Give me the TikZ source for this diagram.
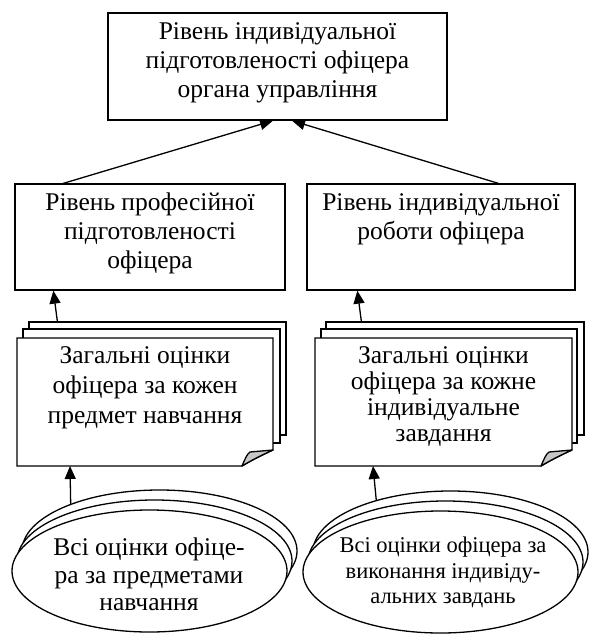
\documentclass[tikz,border=0pt]{standalone}
\usepackage{fontspec}
\setmainfont{Liberation Serif}
\usetikzlibrary{arrows.meta,calc,shapes.geometric}
\begin{document}
\begin{tikzpicture}[x=1pt,y=-1pt,
  box/.style={draw,line width=1.3pt,inner sep=0pt,fill=white},
  txt/.style={align=center,inner sep=0pt,font=\fontsize{25.5}{29}\selectfont},
  arr/.style={line width=1.3pt,-{Triangle[length=13pt,width=11pt]}},
  ell/.style={draw,ellipse,line width=1.3pt,fill=white,minimum width=275pt,minimum height=122pt,inner sep=0pt},
  docline/.style={draw,line width=1.3pt,fill=white,line join=miter},
  fold/.style={draw,fill=black!22,line width=1.3pt,line join=round},
  ghost/.style={inner sep=0pt,outer sep=0pt}]
\useasboundingbox (0,0) rectangle (593,635);
% top box
\node[box,minimum width=339pt,minimum height=107pt] (top) at (277.5,66.5) {};
\node[txt] (toptext) at (277.5,62.5) {Рівень індивідуальної\\підготовленості офіцера\\органа управління};
% middle boxes
\node[box,minimum width=270pt,minimum height=106pt] (lbox) at (150,237) {};
\node[txt] (lboxtext) at (150,233.5) {Рівень професійної\\підготовленості\\офіцера};
\node[box,minimum width=268pt,minimum height=106pt] (rbox) at (441,237) {};
\node[txt] (rboxtext) at (441,219.5) {Рівень індивідуальної\\роботи офіцера};
% left document stack
\node[box,minimum width=257pt,minimum height=113pt] (ldoc3) at (157.5,378.5) {};
\node[box,minimum width=257pt,minimum height=114pt] (ldoc2) at (151.5,386) {};
\node[ghost,minimum width=256pt,minimum height=128pt] (ldoc) at (145,402) {};
\path[docline] (17,338) -- (273,338) -- (273,450) .. controls (262,455) and (252,460) .. (242,466) -- (17,466) -- cycle;
\path[fold] (242,466) .. controls (245,459) and (247,454) .. (250,452) -- (273,450) .. controls (262,455) and (252,460) .. (242,466) -- cycle;
\node[txt,font=\fontsize{25.5}{30}\selectfont] (ldoctext) at (145,388) {Загальні оцінки\\офіцера за кожен\\предмет навчання};
% right document stack
\node[box,minimum width=258pt,minimum height=113pt] (rdoc3) at (455,378.5) {};
\node[box,minimum width=256pt,minimum height=114pt] (rdoc2) at (449,386) {};
\node[ghost,minimum width=257pt,minimum height=128pt] (rdoc) at (443.5,402) {};
\path[docline] (315,338) -- (572,338) -- (572,450) .. controls (561,455) and (551,460) .. (541,466) -- (315,466) -- cycle;
\path[fold] (541,466) .. controls (544,459) and (546,454) .. (549,452) -- (572,450) .. controls (561,455) and (551,460) .. (541,466) -- cycle;
\node[txt,font=\fontsize{25.5}{26}\selectfont] (rdoctext) at (443.5,397) {Загальні оцінки\\офіцера за кожне\\індивідуальне\\завдання};
% left ellipses
\node[ell] (le3) at (159.5,551) {};
\node[ell] (le2) at (154.5,561) {};
\node[ell] (le1) at (149.5,571) {};
\node[txt,font=\fontsize{25.5}{27.5}\selectfont] (letext) at (149,574.5) {Всі оцінки офіце-\\ра за предметами\\навчання};
% right ellipses
\node[ell] (re3) at (450.5,552) {};
\node[ell] (re2) at (445.5,562) {};
\node[ell] (re1) at (440.5,572) {};
\node[txt,font=\fontsize{22.5}{25.5}\selectfont] (retext) at (443,572.5) {Всі оцінки офіцера за\\виконання індивіду-\\альних завдань};
% connectors
\draw[arr] ($(lbox.north west)+(49,0)$) -- ($(top.south)+(-4.5,0)$);
\draw[arr] ($(rbox.north west)+(192,0)$) -- ($(top.south)+(14.5,0)$);
\draw[arr] ($(ldoc3.north west)+(29,0)$) -- ($(lbox.south west)+(39,0)$);
\draw[arr] ($(rdoc3.north west)+(36,0)$) -- ($(rbox.south west)+(51,0)$);
\draw[arr] (le3.152) -- ($(ldoc.south west)+(53,0)$);
\draw[arr] (re3.145) -- ($(rdoc.south west)+(58,0)$);
\end{tikzpicture}
\end{document}
